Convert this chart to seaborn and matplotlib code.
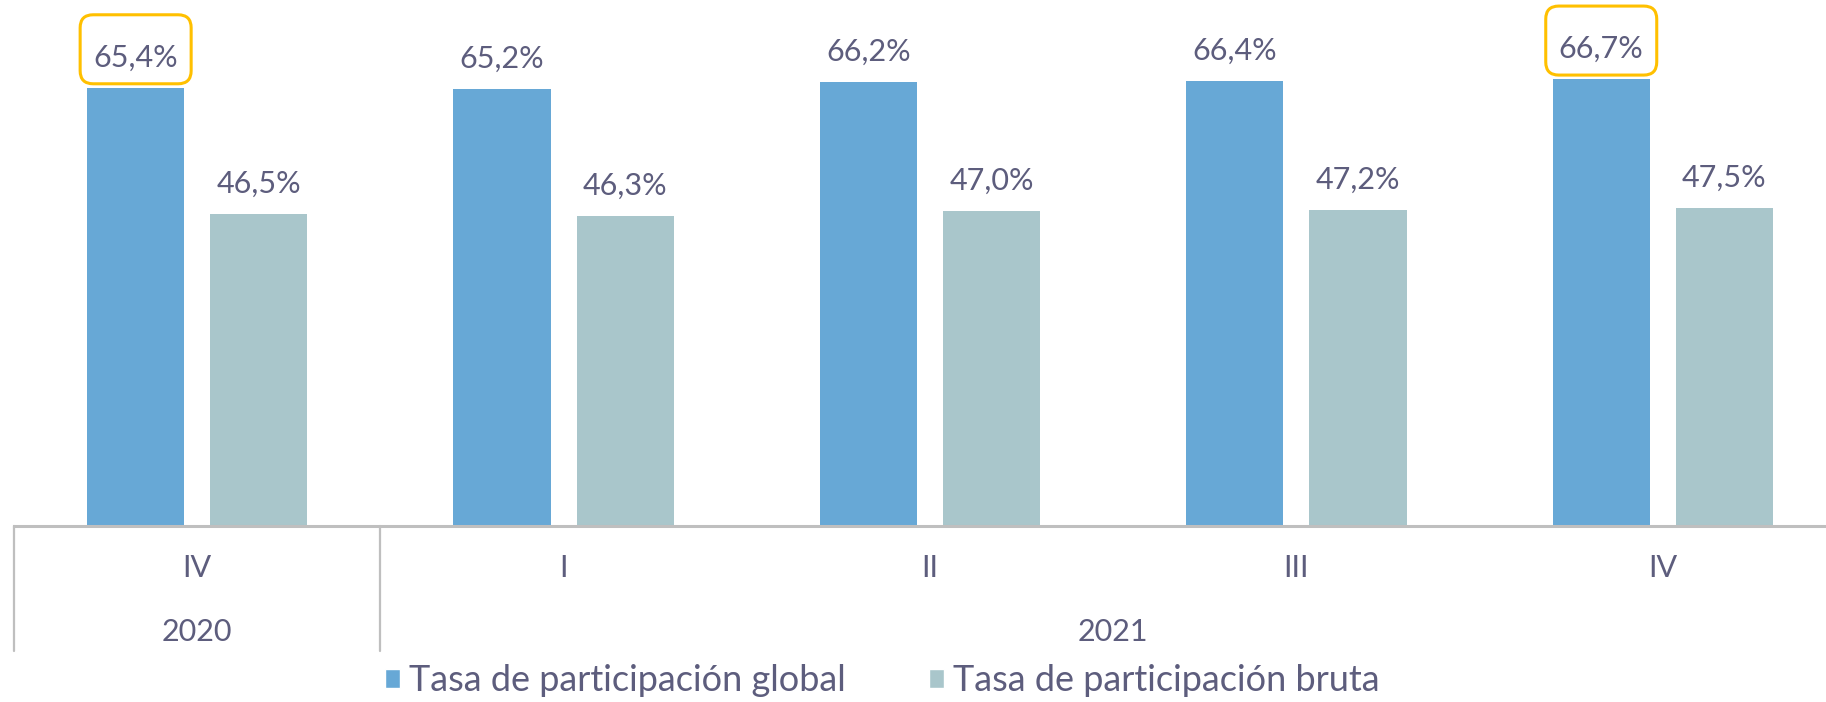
import matplotlib
matplotlib.use("Agg")
import matplotlib.pyplot as plt
import matplotlib.transforms as mtransforms
from matplotlib.patches import Patch, FancyBboxPatch
import pandas as pd
import seaborn as sns

periodos = ["IV 2020", "I 2021", "II 2021", "III 2021", "IV 2021"]
trimestres = ["IV", "I", "II", "III", "IV"]
anios = ["2020", "2021"]
tgp = [65.4, 65.2, 66.2, 66.4, 66.7]
tbp = [46.5, 46.3, 47.0, 47.2, 47.5]
series = ["Tasa de participación global", "Tasa de participación bruta"]
resaltados = [0, 4]  # indices of the framed global-rate labels

df = pd.DataFrame({
    "periodo": periodos * 2,
    "valor": tgp + tbp,
    "serie": [series[0]] * 5 + [series[1]] * 5,
})

sns.set_theme(style="white")
plt.rcParams["font.family"] = ["Lato", "DejaVu Sans"]

txt = "#5d5d7d"
azul = "#67a8d6"
gris = "#a9c6cb"
linea = "#bfbfbf"

fig = plt.figure(figsize=(18.26, 7.02), dpi=100)
ax = fig.add_axes([14 / 1826, 176 / 702, 1832 / 1826, 526 / 702])

sns.barplot(data=df, x="periodo", y="valor", hue="serie", order=periodos,
            hue_order=series, palette=[azul, gris], saturation=1,
            width=0.672, gap=0.211, legend=False, linewidth=0, ax=ax)

ax.set_xlim(-0.5, 4.5)
ax.set_ylim(0, 78.5)
ax.set_xlabel("")
ax.set_ylabel("")
ax.set_yticks([])
ax.set_xticks(range(5))
ax.set_xticklabels(trimestres, fontsize=22, color=txt)
ax.tick_params(axis="x", length=0, pad=20)
for s in ["top", "right", "left"]:
    ax.spines[s].set_visible(False)
ax.spines["bottom"].set_color(linea)
ax.spines["bottom"].set_linewidth(2.2)

# value labels
for ci, (cont, vals) in enumerate(zip(ax.containers, [tgp, tbp])):
    for i, (bar, v) in enumerate(zip(cont, vals)):
        etiqueta = f"{v:.1f}%".replace(".", ",")
        x = bar.get_x() + bar.get_width() / 2
        ax.text(x, bar.get_height() + 4.5, etiqueta, ha="center", va="center",
                fontsize=22, color=txt, zorder=5)
        if ci == 0 and i in resaltados:
            # frame in pixels, anchored at the top centre of the bar
            off = mtransforms.ScaledTranslation(x, bar.get_height(), ax.transData)
            caja = FancyBboxPatch((-55.5, 4), 111, 69,
                                  boxstyle="round,pad=0,rounding_size=13",
                                  transform=mtransforms.IdentityTransform() + off,
                                  fc="white", ec="#ffc000", lw=2.2,
                                  clip_on=False, zorder=4)
            ax.add_artist(caja)

# multi-level category axis separators
tr = ax.get_xaxis_transform()
for xs in [-0.5, 0.5, 4.5]:
    ax.plot([xs, xs], [0, -125 / 526], transform=tr, color=linea, lw=1.6,
            clip_on=False)
ax.text(0, -106 / 526, anios[0], transform=tr, ha="center", va="center",
        fontsize=22, color=txt)
ax.text(2.5, -106 / 526, anios[1], transform=tr, ha="center", va="center",
        fontsize=22, color=txt)

handles = [Patch(facecolor=azul, label=series[0]),
           Patch(facecolor=gris, label=series[1])]
leg = fig.legend(handles=handles, loc="center", bbox_to_anchor=(0.483, 0.03),
                 ncol=2, frameon=False, fontsize=26, handlelength=0.42,
                 handleheight=0.42, handletextpad=0.25, columnspacing=2.3,
                 borderaxespad=0, borderpad=0)
for t in leg.get_texts():
    t.set_color(txt)

fig.savefig("out.png", dpi=100)
